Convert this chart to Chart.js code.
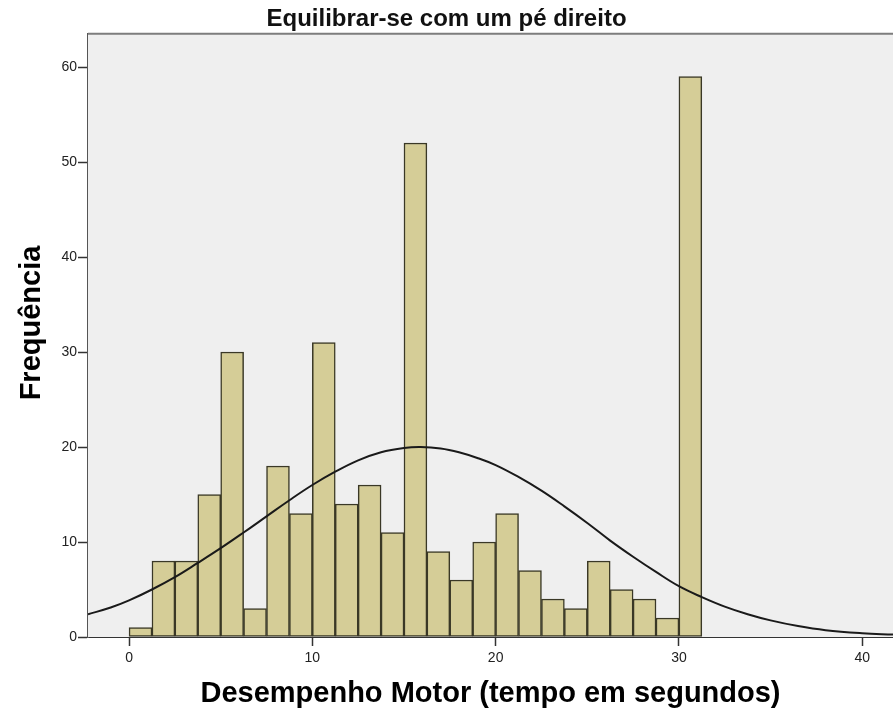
<!DOCTYPE html>
<html lang="pt">
<head>
<meta charset="utf-8">
<title>Equilibrar-se com um pé direito</title>
<script src="https://cdn.jsdelivr.net/npm/chart.js@4/dist/chart.umd.min.js"></script>
<style>
    html, body { margin: 0; padding: 0; background: #ffffff; }
    #chart { display: block; }
</style>
</head>
<body>
<canvas id="chart" width="893" height="717"></canvas>
<script>
/* ==========================================================================
   資料
   ========================================================================== */

// 每個長條的起點 (bin width 1.25 s)
const binWidth = 1.25;
const binStarts = [0, 1.25, 2.5, 3.75, 5, 6.25, 7.5, 8.75, 10, 11.25, 12.5, 13.75,
                   15, 16.25, 17.5, 18.75, 20, 21.25, 22.5, 23.75, 25, 26.25, 27.5, 28.75, 30];
const counts = [1, 8, 8, 15, 30, 3, 18, 13, 31, 14, 16, 11,
                52, 9, 6, 10, 13, 7, 4, 3, 8, 5, 4, 2, 59];

// 常態曲線
const curveX = [-2.24, -1, 0, 1.25, 2.5, 3.75, 5, 6.25, 7.5, 8.75, 10, 11.25, 12.5, 13.75, 15, 15.9,
                17, 18, 19, 20, 21.2, 22.5, 23.75, 25, 26.25, 27.5, 28.75, 30, 31.25, 32.5, 33.75,
                35, 36.5, 38, 40, 41.68];
const curveY = [2.4, 3.1, 3.85, 5.0, 6.3, 7.8, 9.35, 11.0, 12.7, 14.4, 16.0, 17.4, 18.6, 19.45, 19.9, 20.0,
                19.85, 19.45, 18.85, 18.1, 16.9, 15.4, 13.75, 12.0, 10.15, 8.45, 6.85, 5.35, 4.2, 3.2, 2.4,
                1.75, 1.15, 0.72, 0.4, 0.25];

// 刻度
const xTicks = [0, 10, 20, 30, 40];
const yTicks = [0, 10, 20, 30, 40, 50, 60];
const xRange = [-2.24, 41.68];
const yRange = [0, 63.5];

const chartTitle = 'Equilibrar-se com um pé direito';
const xTitle = 'Desempenho Motor (tempo em segundos)';
const yTitle = 'Frequência';

/* ==========================================================================
   外觀
   ========================================================================== */

const fontFamily = '"Liberation Sans", Arial, "DejaVu Sans", sans-serif';
const plotBg = '#efefef';
const barFill = '#d5cd97';
const barEdge = '#3a3826';
const axisColor = '#555555';

// 繪圖區背景、上框線與縱軸標題
const plotFrame = {
    id: 'plotFrame',
    beforeDatasetsDraw(chart) {
        const { ctx, chartArea: a } = chart;
        ctx.save();
        ctx.fillStyle = plotBg;
        ctx.fillRect(a.left, a.top, a.right - a.left, a.bottom - a.top);
        ctx.restore();
    },
    afterDraw(chart) {
        const { ctx, chartArea: a } = chart;
        ctx.save();
        ctx.strokeStyle = '#7d7d7d';
        ctx.lineWidth = 2;
        ctx.beginPath();
        ctx.moveTo(a.left, a.top);
        ctx.lineTo(a.right, a.top);
        ctx.stroke();

        // 縱軸標題 (placed slightly above the axis centre, as in the original)
        ctx.translate(32, 323);
        ctx.rotate(-Math.PI / 2);
        ctx.fillStyle = '#000000';
        ctx.font = 'bold 29px ' + fontFamily;
        ctx.textAlign = 'center';
        ctx.textBaseline = 'middle';
        ctx.fillText(yTitle, 0, 0);
        ctx.restore();
    }
};

const barData = binStarts.map((s, i) => ({ x: s + binWidth / 2, y: counts[i] }));
const curveData = curveX.map((x, i) => ({ x: x, y: curveY[i] }));

new Chart(document.getElementById('chart').getContext('2d'), {
    type: 'bar',
    data: {
        datasets: [
            {
                type: 'line',
                data: curveData,
                borderColor: '#1a1a1a',
                borderWidth: 2,
                pointRadius: 0,
                tension: 0.4,
                order: 0
            },
            {
                type: 'bar',
                data: barData,
                backgroundColor: barFill,
                borderColor: barEdge,
                borderWidth: 1.5,
                borderSkipped: false,
                barPercentage: 1,
                categoryPercentage: 1,
                order: 1
            }
        ]
    },
    options: {
        responsive: false,
        animation: false,
        devicePixelRatio: 1,
        layout: { padding: { left: 0, right: 0, top: 0, bottom: 0 } },
        plugins: {
            legend: { display: false },
            tooltip: { enabled: false },
            title: {
                display: true,
                text: chartTitle,
                color: '#111111',
                font: { family: fontFamily, size: 24, weight: 'bold', lineHeight: 1.2 },
                padding: { top: 5, bottom: 0 }
            }
        },
        scales: {
            x: {
                type: 'linear',
                min: xRange[0],
                max: xRange[1],
                offset: false,
                afterBuildTicks: s => { s.ticks = xTicks.map(v => ({ value: v })); },
                afterFit: s => { s.height = 80; },
                grid: { offset: false, drawOnChartArea: false, drawTicks: true, tickLength: 9, color: '#333333', tickWidth: 1.5 },
                border: { display: true, color: '#333333', width: 2 },
                ticks: {
                    color: '#222222',
                    padding: 4,
                    maxRotation: 0,
                    font: { family: fontFamily, size: 14 }
                },
                title: {
                    display: true,
                    text: xTitle,
                    color: '#000000',
                    font: { family: fontFamily, size: 29, weight: 'bold', lineHeight: 1.2 },
                    padding: { top: 0, bottom: 6 }
                }
            },
            y: {
                min: yRange[0],
                max: yRange[1],
                afterBuildTicks: s => { s.ticks = yTicks.map(v => ({ value: v })); },
                afterFit: s => { s.width = 88; },
                grid: { drawOnChartArea: false, drawTicks: true, tickLength: 10, color: '#333333', tickWidth: 1.5 },
                border: { display: true, color: axisColor, width: 2 },
                ticks: {
                    color: '#222222',
                    padding: 1,
                    font: { family: fontFamily, size: 14 }
                },
                title: { display: false }
            }
        }
    },
    plugins: [plotFrame]
});
</script>
</body>
</html>
